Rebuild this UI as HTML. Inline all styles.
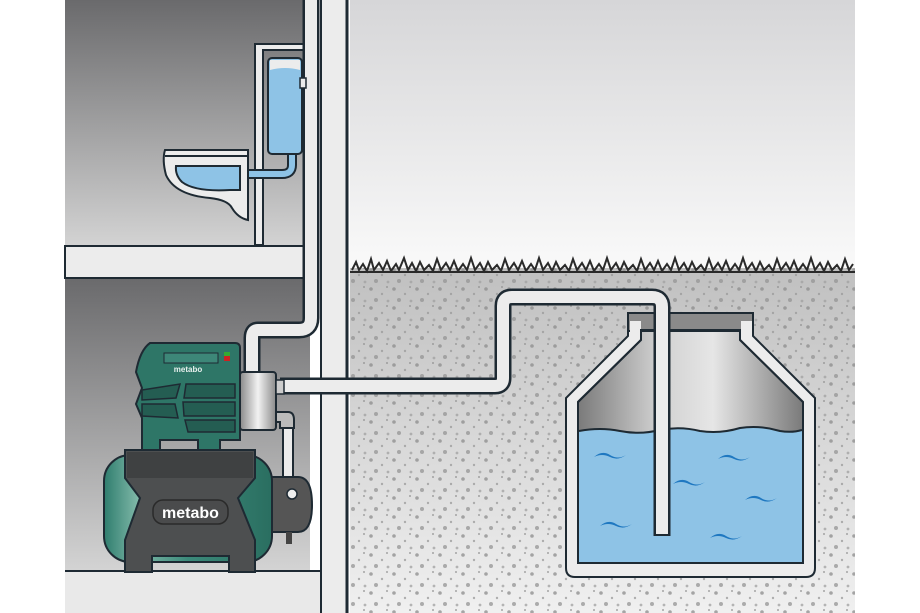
<!DOCTYPE html>
<html><head><meta charset="utf-8"><style>html,body{margin:0;padding:0;background:#fff}svg{display:block}</style></head>
<body>
<svg width="920" height="613" viewBox="0 0 920 613" xmlns="http://www.w3.org/2000/svg">
<defs>
<linearGradient id="room" x1="0" y1="0" x2="0" y2="1"><stop offset="0" stop-color="#6a6a6c"/><stop offset="1" stop-color="#d4d4d4"/></linearGradient>
<linearGradient id="sky" x1="0" y1="0" x2="0" y2="1"><stop offset="0" stop-color="#d6d6d8"/><stop offset="1" stop-color="#fafafa"/></linearGradient>
<linearGradient id="ground" x1="0" y1="0" x2="0" y2="1"><stop offset="0" stop-color="#c0c0c0"/><stop offset="1" stop-color="#f0f0f0"/></linearGradient>
<linearGradient id="tankin" x1="0" y1="0" x2="1" y2="0"><stop offset="0" stop-color="#7a7a7a"/><stop offset="0.35" stop-color="#cfcfcf"/><stop offset="0.6" stop-color="#e6e6e6"/><stop offset="1" stop-color="#7a7a7a"/></linearGradient>
<linearGradient id="chrome" x1="0" y1="0" x2="1" y2="0"><stop offset="0" stop-color="#8a8a8a"/><stop offset="0.5" stop-color="#f2f2f2"/><stop offset="1" stop-color="#8a8a8a"/></linearGradient>
<linearGradient id="cyl" x1="0" y1="0" x2="1" y2="0"><stop offset="0" stop-color="#2f7d6e"/><stop offset="0.2" stop-color="#7fb8a8"/><stop offset="0.5" stop-color="#3b8a7a"/><stop offset="1" stop-color="#2a6e60"/></linearGradient>
<pattern id="speck" width="23" height="19" patternUnits="userSpaceOnUse">
<circle cx="3" cy="4" r="1.8" fill="#8c8c8c"/><circle cx="14" cy="9" r="1.2" fill="#999"/><circle cx="8" cy="15" r="2" fill="#949494"/><circle cx="19" cy="2" r="1" fill="#8c8c8c"/><circle cx="20" cy="16" r="1.4" fill="#a0a0a0"/>
</pattern>
</defs>
<rect width="920" height="613" fill="#fff"/>
<rect x="350" y="0" width="505" height="272" fill="url(#sky)"/>
<rect x="350" y="268" width="505" height="345" fill="url(#ground)"/>
<rect x="350" y="268" width="505" height="345" fill="url(#speck)" opacity="0.75"/>
<polyline fill="none" stroke="#2a2a2a" stroke-width="2" points="352,270 356,262 359,270 363,264 367,271 371,259 374,270 379,263 383,270 387,261 391,271 396,264 399,270 404,258 408,270 412,263 416,271 420,262 424,270 429,265 433,271 437,259 441,270 446,263 450,270 454,261 458,271 463,264 467,270 471,258 475,270 480,263 484,271 488,262 492,270 497,265 501,271 505,259 509,270 514,263 518,270 522,261 526,271 531,264 535,270 539,258 543,270 548,263 552,271 556,262 560,270 565,265 569,271 573,259 577,270 582,263 586,270 590,261 594,271 599,264 603,270 607,258 611,270 616,263 620,271 624,262 628,270 633,265 637,271 641,259 645,270 650,263 654,270 658,261 662,271 667,264 671,270 675,258 679,270 684,263 688,271 692,262 696,270 701,265 705,271 709,259 713,270 718,263 722,270 726,261 730,271 735,264 739,270 743,258 747,270 752,263 756,271 760,262 764,270 769,265 773,271 777,259 781,270 786,263 790,270 794,261 798,271 803,264 807,270 811,258 815,270 820,263 824,271 828,262 832,270 837,265 841,271 845,259 849,270 853,264"/>
<line x1="350" y1="272" x2="855" y2="272" stroke="#2a2a2a" stroke-width="2"/>
<rect x="65" y="0" width="245" height="248" fill="url(#room)"/>
<rect x="65" y="278" width="245" height="294" fill="url(#room)"/>
<rect x="65" y="570" width="283" height="43" fill="#e9e9e9"/>
<line x1="65" y1="571" x2="322" y2="571" stroke="#1e2a33" stroke-width="2"/>
<rect x="65" y="246" width="245" height="32" fill="#ececec" stroke="#1e2a33" stroke-width="2"/>
<rect x="320" y="0" width="28" height="613" fill="#ececec"/>
<line x1="321" y1="0" x2="321" y2="613" stroke="#1e2a33" stroke-width="2"/>
<line x1="347" y1="0" x2="347" y2="613" stroke="#1e2a33" stroke-width="3"/>
<path d="M255,245 V44 H305 V50 H263 V245 Z" fill="#ececec" stroke="#1e2a33" stroke-width="2"/>
<rect x="268" y="58" width="34" height="96" rx="4" fill="#8ec3e6" stroke="#1e2a33" stroke-width="2"/>
<path d="M270,70 Q285,66 300,70 V60 H270 Z" fill="#ececec"/>
<path d="M292,155 V165 Q292,174 282,174 H238" fill="none" stroke="#1e2a33" stroke-width="10"/>
<path d="M292,155 V165 Q292,174 282,174 H238" fill="none" stroke="#8ec3e6" stroke-width="6"/>
<path d="M165,150 H248 V220 Q238,218 232,208 Q228,200 210,198 Q175,195 166,175 Q162,160 165,150 Z" fill="#ececec" stroke="#1e2a33" stroke-width="2"/>
<line x1="165" y1="156" x2="248" y2="156" stroke="#1e2a33" stroke-width="2"/>
<path d="M176,166 H240 V190 H230 Q195,192 182,182 Q175,175 176,166 Z" fill="#8ec3e6" stroke="#1e2a33" stroke-width="2"/>
<path d="M311,0 V318 Q311,330 299,330 H258 Q252,330 252,338 V372" fill="none" stroke="#1e2a33" stroke-width="17"/>
<path d="M311,0 V318 Q311,330 299,330 H258 Q252,330 252,338 V372" fill="none" stroke="#ececec" stroke-width="12"/>
<rect x="300" y="78" width="6" height="10" fill="#ececec" stroke="#1e2a33" stroke-width="1.5"/>
<path d="M566,568 V398 L628,336 V318 H641 V340 L578,402 V563 H803 V402 L740,340 V318 H753 V336 L815,398 V568 Q815,577 806,577 H575 Q566,577 566,568 Z" fill="#ececec" stroke="#1e2a33" stroke-width="2"/>
<path d="M578,402 L641,340 V330 H740 V340 L803,402 V563 H578 Z" fill="url(#tankin)" stroke="#1e2a33" stroke-width="2"/>
<rect x="628" y="313" width="125" height="18" fill="#8a8a8a" stroke="#1e2a33" stroke-width="2"/>
<rect x="630" y="321" width="11" height="14" fill="#ececec"/>
<rect x="741" y="321" width="11" height="14" fill="#ececec"/>
<path d="M579,431 Q600,427 620,431 Q640,435 660,430 Q680,426 700,431 Q720,434 740,428 Q760,425 780,431 Q792,433 802,430 V562 H579 Z" fill="#8ec3e6"/>
<path d="M579,431 Q600,427 620,431 Q640,435 660,430 Q680,426 700,431 Q720,434 740,428 Q760,425 780,431 Q792,433 802,430" fill="none" stroke="#1e2a33" stroke-width="2"/>
<path d="M578,402 L641,340 V330 H740 V340 L803,402 V563 H578 Z" fill="none" stroke="#1e2a33" stroke-width="2"/>
<g fill="#1f78c1">
<path d="M594,457 q8,-7 16,-2 t16,0 q-8,6 -16,2 t-16,0z"/>
<path d="M718,459 q8,-7 16,-2 t16,0 q-8,6 -16,2 t-16,0z"/>
<path d="M673,484 q8,-7 16,-2 t16,0 q-8,6 -16,2 t-16,0z"/>
<path d="M745,500 q8,-7 16,-2 t16,0 q-8,6 -16,2 t-16,0z"/>
<path d="M600,526 q8,-7 16,-2 t16,0 q-8,6 -16,2 t-16,0z"/>
<path d="M710,538 q8,-7 16,-2 t16,0 q-8,6 -16,2 t-16,0z"/>
</g>
<path d="M280,386 H495 Q503,386 503,378 V306 Q503,297 512,297 H652 Q662,297 662,307 V536" fill="none" stroke="#1e2a33" stroke-width="17"/>
<path d="M280,386 H495 Q503,386 503,378 V306 Q503,297 512,297 H652 Q662,297 662,307 V534" fill="none" stroke="#ececec" stroke-width="12"/>
<rect x="283" y="418" width="10" height="60" fill="#ececec" stroke="#1e2a33" stroke-width="2"/>
<path d="M272,412 H288 Q294,412 294,420 V428 H280 V422 H272 Z" fill="#bbb" stroke="#1e2a33" stroke-width="2"/>
<path d="M262,477 H298 Q312,477 312,505 Q312,532 298,532 H262 Z" fill="#555" stroke="#1e2a33" stroke-width="2"/>
<circle cx="292" cy="494" r="5" fill="#eee" stroke="#1e2a33" stroke-width="1.5"/>
<rect x="286" y="532" width="6" height="12" fill="#444"/>
<rect x="104" y="455" width="168" height="107" rx="26" fill="url(#cyl)" stroke="#1e2a33" stroke-width="2"/>
<path d="M125,450 H255 V478 L238,498 L255,540 V572 H229 V556 H152 V572 H125 V540 L140,498 L125,478 Z" fill="#4d4f50" stroke="#1e2a33" stroke-width="2"/>
<rect x="127" y="452" width="126" height="26" fill="#3f4142"/>
<rect x="153" y="500" width="75" height="24" rx="10" fill="#4a4b4c" stroke="#2a2a2a" stroke-width="1.5"/>
<text x="190.5" y="518" font-family="Liberation Sans, sans-serif" font-size="16" font-weight="bold" fill="#fff" text-anchor="middle">metabo</text>
<path d="M150,343 H235 Q240,343 240,348 V440 H220 V450 H198 V440 H160 V450 H142 V418 L136,404 L142,388 L136,372 Q140,350 150,343 Z" fill="#2e7667" stroke="#1e2a33" stroke-width="2"/>
<rect x="164" y="353" width="54" height="10" fill="#3d8778" stroke="#1e2a33" stroke-width="1"/>
<rect x="224" y="352" width="6" height="8" fill="#3a3"/>
<rect x="224" y="356" width="6" height="5" fill="#c22"/>
<text x="188" y="372" font-family="Liberation Sans, sans-serif" font-size="8" font-weight="bold" fill="#e8f0ee" text-anchor="middle">metabo</text>
<g stroke="#1e2a33" stroke-width="1.5" fill="#245d52">
<path d="M142,390 L180,384 L176,398 L142,400 Z"/>
<path d="M142,404 L175,404 L178,418 L142,416 Z"/>
<path d="M186,384 H235 V398 H184 Z"/>
<path d="M183,402 H235 V416 H184 Z"/>
<path d="M185,420 H235 V432 H188 Z"/>
</g>
<rect x="240" y="372" width="36" height="58" rx="3" fill="url(#chrome)" stroke="#1e2a33" stroke-width="2"/>
<rect x="276" y="380" width="8" height="14" fill="#ccc" stroke="#1e2a33" stroke-width="1.5"/>
</svg>
</body></html>
